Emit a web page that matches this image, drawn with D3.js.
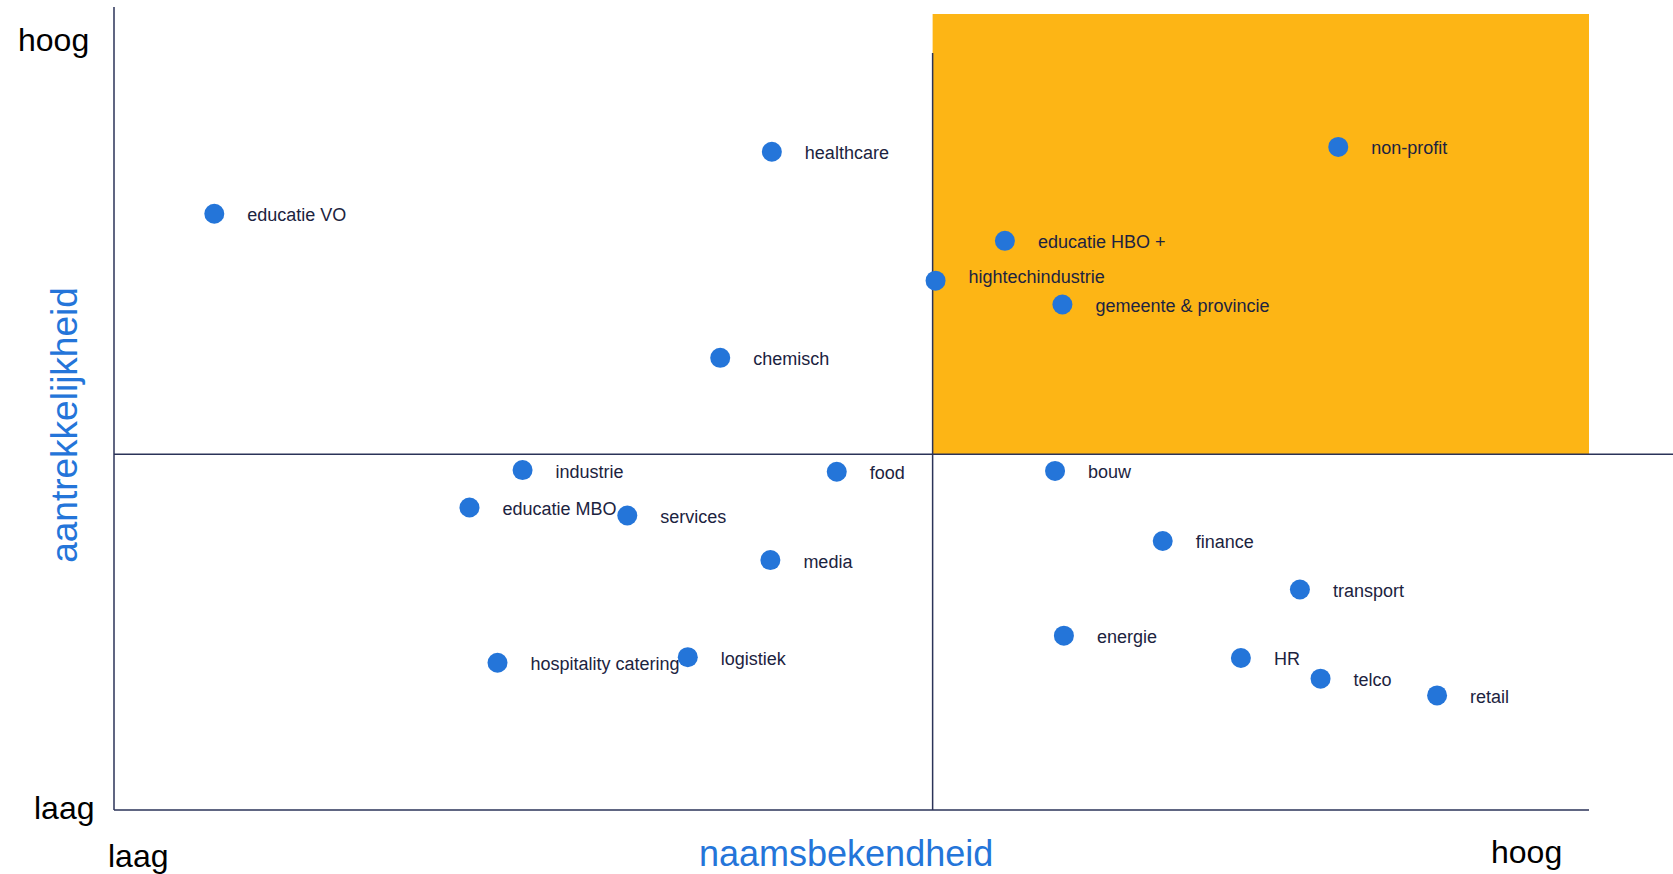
<!DOCTYPE html>
<html>
<head>
<meta charset="utf-8">
<script src="https://cdn.jsdelivr.net/npm/d3@7"></script>
<style>
  html, body { margin: 0; padding: 0; background: #fff; }
  svg { display: block; font-family: "Liberation Sans", Arial, sans-serif; }
</style>
</head>
<body>
<svg width="1673" height="874"></svg>
<script>
// sectors, naamsbekendheid (x) and aantrekkelijkheid (y), 0..100
const sectors = ["healthcare", "educatie VO", "non-profit", "educatie HBO +", "hightechindustrie",
    "gemeente & provincie", "chemisch", "industrie", "food", "bouw", "educatie MBO", "services",
    "media", "finance", "transport", "energie", "HR", "telco", "retail", "hospitality catering", "logistiek"];
const bekendheid = [44.6, 6.8, 83.0, 60.4, 55.7, 64.3, 41.1, 27.7, 49.0, 63.8, 24.1, 34.8,
    44.5, 71.1, 80.4, 64.4, 76.4, 81.8, 89.7, 26.0, 38.9];
const aantrekkelijkheid = [82.7, 74.9, 83.3, 71.5, 66.5, 63.5, 56.8, 42.7, 42.5, 42.6, 38.0, 37.0,
    31.4, 33.8, 27.7, 21.9, 19.1, 16.5, 14.4, 18.5, 19.2];

// quadrant split
const xSplit = 55.5;
const ySplit = 44.7;

const axisLabels = { low: "laag", high: "hoog", x: "naamsbekendheid", y: "aantrekkelijkheid" };

function draw() {
    let svg = d3.select("svg");

    let x = d3.scaleLinear().domain([0, 100]).range([114, 1589]);
    let y = d3.scaleLinear().domain([0, 100]).range([810, 14]);

    const lineColor = "#2b3358";
    const dotColor = "#2475d9";
    const blue = "#2475d9";

    let points = sectors.map((name, i) => ({ name: name, x: bekendheid[i], y: aantrekkelijkheid[i] }));

    // highlighted quadrant
    svg.append("rect")
        .attr("x", x(xSplit))
        .attr("y", y(100))
        .attr("width", x(100) - x(xSplit))
        .attr("height", y(ySplit) - y(100))
        .attr("fill", "#fdb515");

    // axes
    svg.append("line")
        .attr("x1", x(0)).attr("x2", x(0))
        .attr("y1", 7).attr("y2", y(0))
        .attr("stroke", lineColor).attr("stroke-width", 1.5);
    svg.append("line")
        .attr("x1", x(0)).attr("x2", x(100))
        .attr("y1", y(0)).attr("y2", y(0))
        .attr("stroke", lineColor).attr("stroke-width", 1.5);

    // quadrant lines
    svg.append("line")
        .attr("x1", x(0)).attr("x2", 1673)
        .attr("y1", y(ySplit)).attr("y2", y(ySplit))
        .attr("stroke", lineColor).attr("stroke-width", 1.5);
    svg.append("line")
        .attr("x1", x(xSplit)).attr("x2", x(xSplit))
        .attr("y1", 53).attr("y2", y(0))
        .attr("stroke", lineColor).attr("stroke-width", 1.5);

    svg.selectAll(".dot")
        .data(points)
        .enter()
        .append("circle")
        .attr("class", "dot")
        .attr("cx", d => x(d.x))
        .attr("cy", d => y(d.y))
        .attr("r", 10)
        .attr("fill", dotColor);

    svg.selectAll(".label")
        .data(points)
        .enter()
        .append("text")
        .attr("class", "label")
        .attr("x", d => x(d.x) + 33)
        .attr("y", d => y(d.y) + (d.name === "hightechindustrie" ? 2 : 7.5))
        .attr("font-size", 18)
        .attr("fill", "#1c2340")
        .text(d => d.name);

    // corner labels
    svg.append("text").attr("x", 18).attr("y", 51)
        .attr("font-size", 32).attr("fill", "#000").text(axisLabels.high);
    svg.append("text").attr("x", 34).attr("y", 819)
        .attr("font-size", 32).attr("fill", "#000").text(axisLabels.low);
    svg.append("text").attr("x", 108).attr("y", 867)
        .attr("font-size", 32).attr("fill", "#000").text(axisLabels.low);
    svg.append("text").attr("x", 1491).attr("y", 863)
        .attr("font-size", 32).attr("fill", "#000").text(axisLabels.high);

    // axis titles
    svg.append("text")
        .attr("x", 699).attr("y", 866)
        .attr("font-size", 36).attr("fill", blue)
        .text(axisLabels.x);
    svg.append("text")
        .attr("transform", "translate(77,425) rotate(-90)")
        .attr("text-anchor", "middle")
        .attr("font-size", 37).attr("fill", blue)
        .text(axisLabels.y);
}

draw();
</script>
</body>
</html>
